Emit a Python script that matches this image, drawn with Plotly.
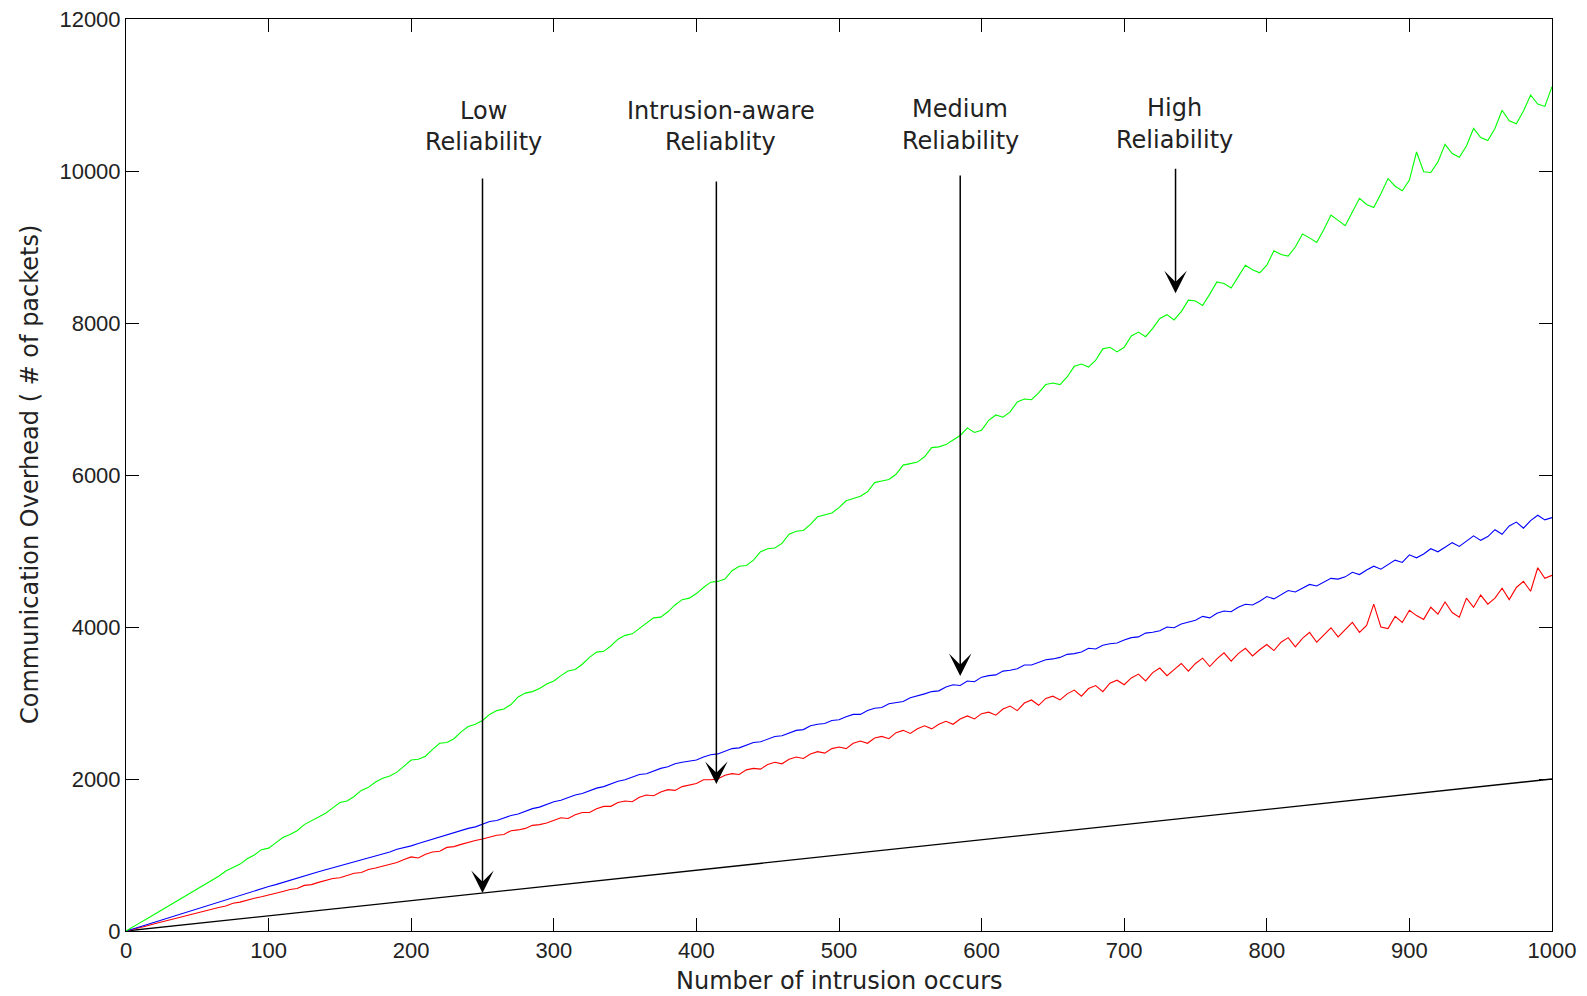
import plotly.graph_objects as go

# ---------------- data ----------------
x_noisy = list(range(0, 1001, 5))

high_rel = [
    0, 50, 110, 165, 220, 280, 335, 385, 450, 500,
    560, 610, 660, 720, 790, 830, 880, 950, 1000, 1070,
    1090, 1160, 1230, 1270, 1320, 1400, 1450, 1490, 1550, 1620,
    1690, 1710, 1770, 1850, 1890, 1960, 2010, 2040, 2090, 2170,
    2250, 2260, 2300, 2390, 2470, 2480, 2530, 2620, 2690, 2720,
    2770, 2850, 2900, 2920, 2980, 3080, 3130, 3150, 3190, 3250,
    3290, 3360, 3420, 3440, 3510, 3600, 3670, 3680, 3750, 3840,
    3890, 3910, 3980, 4060, 4120, 4130, 4200, 4290, 4360, 4380,
    4440, 4520, 4590, 4600, 4630, 4740, 4800, 4810, 4880, 4990,
    5030, 5040, 5100, 5220, 5260, 5270, 5350, 5450, 5480, 5500,
    5570, 5660, 5690, 5720, 5780, 5900, 5920, 5940, 6010, 6130,
    6150, 6170, 6240, 6360, 6370, 6400, 6460, 6520, 6620, 6560,
    6590, 6720, 6790, 6760, 6830, 6960, 7000, 6990, 7080, 7190,
    7210, 7190, 7290, 7430, 7460, 7420, 7510, 7660, 7680, 7620,
    7680, 7830, 7880, 7820, 7930, 8060, 8110, 8040, 8150, 8300,
    8290, 8230, 8380, 8540, 8520, 8460, 8610, 8760, 8700, 8660,
    8760, 8950, 8900, 8880, 9000, 9170, 9120, 9060, 9230, 9420,
    9350, 9280, 9460, 9640, 9560, 9520, 9700, 9900, 9800, 9740,
    9880, 10250, 9990, 9980, 10120, 10350, 10230, 10180, 10330, 10560,
    10440, 10400, 10560, 10800, 10660, 10620, 10790, 11000, 10880, 10850,
    11110]

medium_rel = [
    0, 25, 55, 85, 115, 145, 175, 200, 235, 260,
    290, 320, 350, 375, 410, 440, 465, 500, 530, 555,
    585, 610, 640, 670, 690, 725, 750, 780, 805, 830,
    855, 885, 905, 940, 965, 985, 1015, 1040, 1075, 1095,
    1120, 1150, 1180, 1200, 1235, 1270, 1290, 1320, 1350, 1370,
    1400, 1440, 1455, 1490, 1520, 1540, 1580, 1610, 1630, 1670,
    1700, 1720, 1760, 1790, 1810, 1850, 1880, 1900, 1940, 1970,
    1990, 2020, 2060, 2070, 2110, 2140, 2160, 2200, 2220, 2240,
    2250, 2290, 2320, 2330, 2370, 2400, 2410, 2450, 2480, 2490,
    2530, 2560, 2570, 2610, 2640, 2650, 2700, 2720, 2730, 2770,
    2780, 2820, 2850, 2850, 2900, 2930, 2940, 2990, 3010, 3020,
    3070, 3090, 3120, 3150, 3160, 3210, 3240, 3230, 3290, 3280,
    3340, 3360, 3370, 3420, 3430, 3450, 3500, 3500, 3530, 3570,
    3580, 3600, 3640, 3650, 3670, 3720, 3710, 3760, 3780, 3790,
    3830, 3860, 3870, 3920, 3930, 3950, 4000, 3990, 4040, 4070,
    4090, 4140, 4120, 4180, 4210, 4200, 4260, 4300, 4290, 4340,
    4400, 4370, 4430, 4480, 4460, 4510, 4560, 4540, 4590, 4640,
    4630, 4660, 4720, 4690, 4750, 4800, 4760, 4820, 4880, 4850,
    4950, 4910, 4960, 5030, 4990, 5050, 5110, 5060, 5130, 5200,
    5140, 5190, 5280, 5220, 5330, 5380, 5300, 5400, 5470, 5410,
    5440]

intrusion_aware = [
    0, 20, 45, 70, 95, 120, 140, 165, 190, 215,
    240, 260, 290, 310, 330, 365, 380, 410, 430, 450,
    470, 500, 520, 545, 560, 600, 610, 640, 665, 690,
    700, 730, 760, 770, 810, 830, 850, 880, 900, 940,
    975, 960, 1010, 1040, 1050, 1100, 1110, 1140, 1170, 1190,
    1210, 1240, 1260, 1270, 1320, 1330, 1350, 1390, 1400, 1420,
    1450, 1490, 1480, 1530, 1560, 1560, 1610, 1640, 1640, 1690,
    1710, 1700, 1760, 1790, 1780, 1830, 1860, 1850, 1900, 1920,
    1940, 1990, 1990, 2000, 2050, 2070, 2060, 2120, 2140, 2130,
    2190, 2220, 2200, 2260, 2290, 2270, 2330, 2360, 2340, 2400,
    2420, 2400, 2470, 2500, 2470, 2540, 2560, 2530, 2610, 2640,
    2600, 2660, 2700, 2660, 2720, 2760, 2720, 2790, 2830, 2790,
    2860, 2880, 2840, 2920, 2960, 2900, 3000, 3040, 2970, 3060,
    3090, 3040, 3120, 3170, 3090, 3190, 3230, 3150, 3260, 3300,
    3240, 3330, 3380, 3290, 3400, 3460, 3360, 3440, 3520, 3420,
    3520, 3590, 3480, 3580, 3660, 3550, 3650, 3720, 3620, 3700,
    3770, 3690, 3800, 3860, 3740, 3850, 3930, 3800, 3900, 3990,
    3870, 3960, 4060, 3930, 4020, 4300, 4000, 3980, 4140, 4060,
    4220, 4150, 4100, 4260, 4170, 4330, 4190, 4130, 4380, 4260,
    4420, 4300, 4380, 4510, 4360, 4520, 4600, 4470, 4780, 4640,
    4680]

x_low = [0, 100, 200, 300, 400, 500, 600, 700, 800, 900, 1000]
low_rel = [0, 200, 400, 600, 800, 1000, 1200, 1400, 1600, 1800, 2000]

# annotation labels and where their arrows point
label_line1 = ["Low", "Intrusion-aware", "Medium", "High"]
label_line2 = ["Reliability", "Reliablity", "Reliability", "Reliability"]
label_x = [251, 417, 585, 735]
arrow_x = [250, 414, 585, 736]
arrow_tip_y = [500, 1934, 3355, 8390]
arrow_tail_y = [9920, 9880, 9960, 10050]
label_y1 = [10790, 10790, 10815, 10830]
label_y2 = [10382, 10382, 10400, 10410]

x_ticks = [0, 100, 200, 300, 400, 500, 600, 700, 800, 900, 1000]
y_ticks = [0, 2000, 4000, 6000, 8000, 10000, 12000]
y_ticktext = ["0", "2000", "4000", "6000", "8000", "10000", "12000"]

x_title = "Number of intrusion occurs"
y_title = "Communication Overhead ( # of packets)"

TICK_FONT = "Liberation Sans, Arial, sans-serif"
TEXT_FONT = "DejaVu Sans, Verdana, sans-serif"
TXT_COL = "#222222"

fig = go.Figure()
fig.add_trace(go.Scatter(x=x_low, y=low_rel, mode="lines",
                         line=dict(color="#000000", width=1.3), name="Low"))
fig.add_trace(go.Scatter(x=x_noisy, y=intrusion_aware, mode="lines",
                         line=dict(color="#ff0000", width=1.1), name="Intrusion-aware"))
fig.add_trace(go.Scatter(x=x_noisy, y=medium_rel, mode="lines",
                         line=dict(color="#0000ff", width=1.1), name="Medium"))
fig.add_trace(go.Scatter(x=x_noisy, y=high_rel, mode="lines",
                         line=dict(color="#00ff00", width=1.1), name="High"))

annotations = []
for i in range(len(label_line1)):
    annotations.append(dict(x=label_x[i], y=label_y1[i], xref="x", yref="y",
                            text=label_line1[i], showarrow=False,
                            font=dict(family=TEXT_FONT, size=24, color=TXT_COL)))
    annotations.append(dict(x=label_x[i], y=label_y2[i], xref="x", yref="y",
                            text=label_line2[i], showarrow=False,
                            font=dict(family=TEXT_FONT, size=24, color=TXT_COL)))
    annotations.append(dict(x=arrow_x[i], y=arrow_tip_y[i], xref="x", yref="y",
                            ax=arrow_x[i], ay=arrow_tail_y[i], axref="x", ayref="y",
                            text="", showarrow=True, arrowhead=3, arrowsize=2.5,
                            arrowwidth=1.5, arrowcolor="#000000", standoff=0))

# axis titles
annotations.append(dict(x=0.5, y=0, xref="paper", yref="paper", text=x_title,
                        showarrow=False, xanchor="center", yanchor="middle", yshift=-50,
                        font=dict(family=TEXT_FONT, size=24, color=TXT_COL)))
annotations.append(dict(x=0, y=0.5, xref="paper", yref="paper", text=y_title,
                        showarrow=False, xanchor="center", yanchor="middle", xshift=-96,
                        textangle=-90,
                        font=dict(family=TEXT_FONT, size=24, color=TXT_COL)))

axis_common = dict(showline=True, linecolor="#000000", linewidth=1, mirror="ticks",
                   ticks="inside", ticklen=13, tickwidth=1, tickcolor="#000000",
                   showgrid=False, zeroline=False, automargin=False,
                   ticklabeloverflow="allow",
                   tickfont=dict(family=TICK_FONT, size=22, color=TXT_COL))

# the page body adds an 8px offset, so the figure is sized to fill the window
fig.update_layout(
    width=1579, height=988,
    paper_bgcolor="#ffffff", plot_bgcolor="#ffffff",
    margin=dict(l=118, r=35, t=11, b=65),
    showlegend=False,
    annotations=annotations,
    xaxis=dict(range=[0, 1000], tickvals=x_ticks, **axis_common),
    yaxis=dict(range=[0, 12000], tickvals=y_ticks, ticktext=y_ticktext, **axis_common),
)

fig.write_html("out.html")
